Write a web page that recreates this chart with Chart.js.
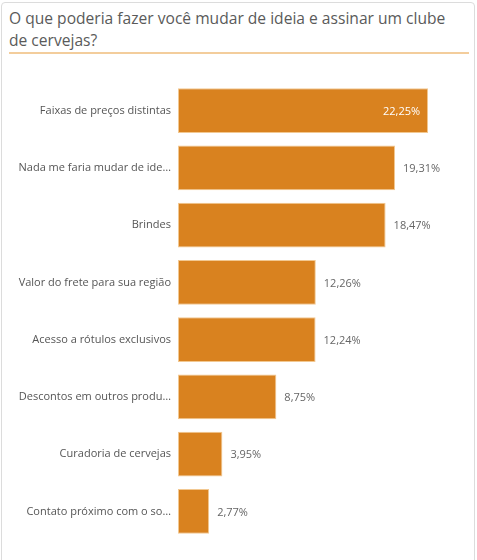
<!DOCTYPE html>
<html>
<head>
<meta charset="utf-8">
<script src="https://cdn.jsdelivr.net/npm/chart.js@4"></script>
<style>
  html, body { margin: 0; padding: 0; background: #fff; }
  .card {
    position: absolute; left: 1px; top: 2px; width: 474px; height: 580px;
    border: 1px solid #dcdcdc; border-radius: 4px; box-sizing: border-box;
  }
  .title {
    position: absolute; left: 7px; top: 4px; width: 460px;
    font-family: "Open Sans", sans-serif; font-size: 15.6px; line-height: 22px;
    color: #5a5a5a; padding-bottom: 1px; border-bottom: 2px solid #f3cd9c;
  }
  .wrap { position: absolute; left: 1px; top: 58px; width: 472px; height: 500px; }
</style>
</head>
<body>
<div class="card">
  <div class="title">O que poderia fazer você mudar de ideia e assinar um clube<br>de cervejas?</div>
</div>
<div class="wrap"><canvas id="myChart"></canvas></div>
<script>
const categories = ['Faixas de preços distintas', 'Nada me faria mudar de ide…', 'Brindes', 'Valor do frete para sua região',
  'Acesso a rótulos exclusivos', 'Descontos em outros produ…', 'Curadoria de cervejas', 'Contato próximo com o so…'];
const percents = [22.25, 19.31, 18.47, 12.26, 12.24, 8.75, 3.95, 2.77];

const fontName = "'Open Sans', sans-serif";

// value labels at the end of each bar, inside when they don't fit
const valueLabels = {
  id: 'valueLabels',
  afterDatasetsDraw(chart) {
    const c = chart.ctx;
    const meta = chart.getDatasetMeta(0);
    c.save();
    c.font = '11px ' + fontName;
    c.textBaseline = 'middle';
    meta.data.forEach((bar, i) => {
      const txt = percents[i].toFixed(2).replace('.', ',') + '%';
      const w = c.measureText(txt).width;
      if (bar.x + 9 + w > chart.chartArea.right) {
        c.fillStyle = '#ffffff';
        c.textAlign = 'right';
        c.fillText(txt, bar.x - 8, bar.y + 1);
      } else {
        c.fillStyle = '#666';
        c.textAlign = 'left';
        c.fillText(txt, bar.x + 8, bar.y + 1);
      }
    });
    c.restore();
  }
};

const ctx = document.getElementById('myChart');

new Chart(ctx, {
  type: 'bar',
  data: {
    labels: categories,
    datasets: [{
      data: percents,
      backgroundColor: '#d9821f',
      borderColor: '#f2c891',
      borderWidth: 1,
      borderSkipped: false,
      categoryPercentage: 0.785,
      barPercentage: 1
    }]
  },
  plugins: [valueLabels],
  options: {
    indexAxis: 'y',
    responsive: true,
    maintainAspectRatio: false,
    animation: false,
    layout: {
      padding: { top: 24, bottom: 18, right: 14, left: 0 }
    },
    plugins: {
      legend: { display: false },
      tooltip: { enabled: false }
    },
    scales: {
      x: {
        display: false,
        min: 0,
        max: 25
      },
      y: {
        grid: { display: false },
        border: { display: false },
        afterFit(scale) { scale.width = 177; },
        ticks: {
          color: '#555',
          padding: -1,
          font: { family: fontName, size: 11 }
        }
      }
    }
  }
});
</script>
</body>
</html>
